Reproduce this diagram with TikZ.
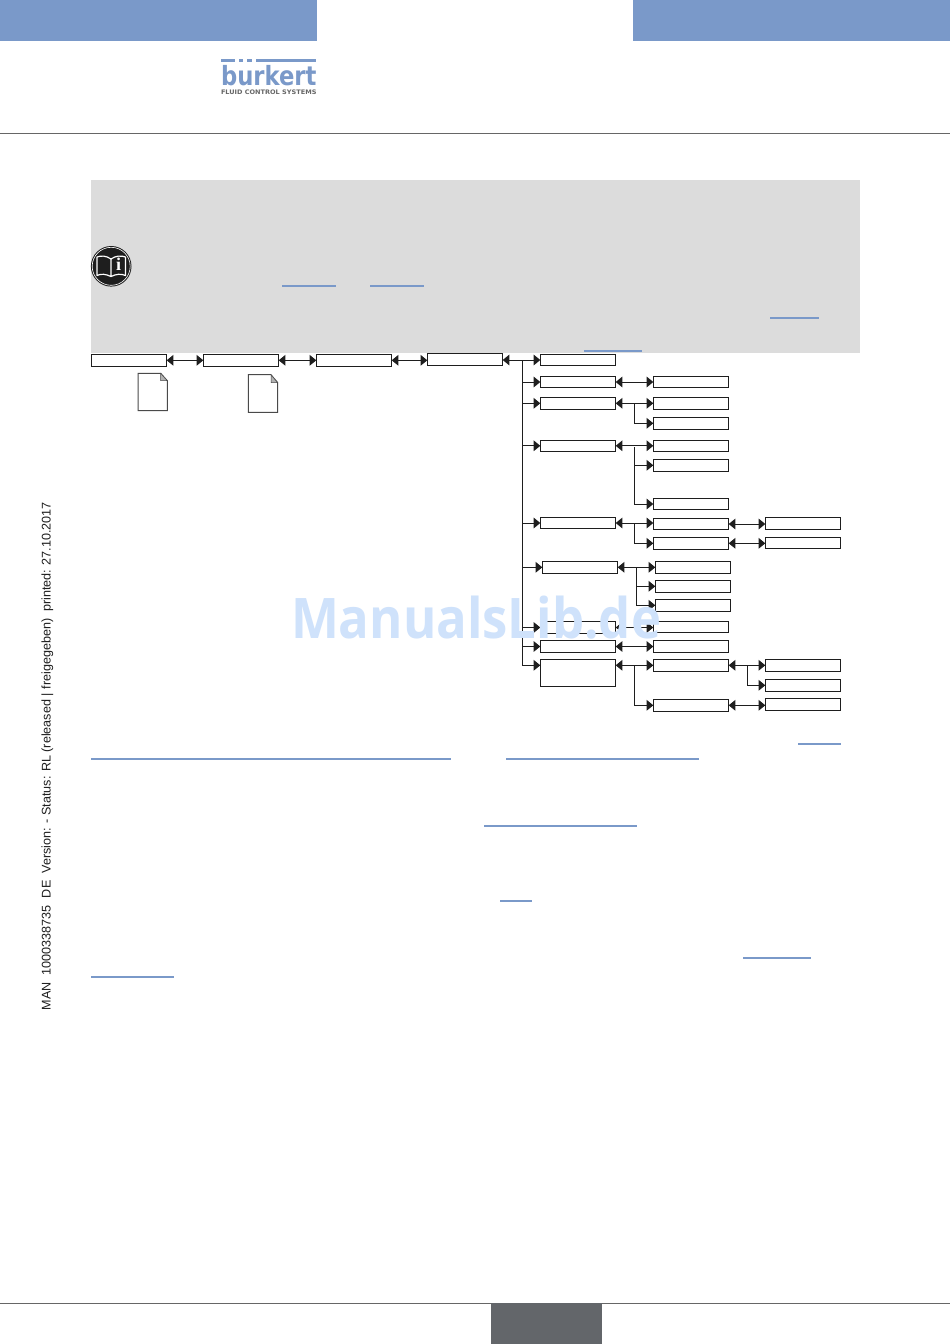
\documentclass[tikz,border=0pt]{standalone}
\usepackage{fontspec}
\usepackage{graphicx}
\setmainfont{Liberation Sans}
\newfontfamily\serifi{Liberation Serif}
\newfontfamily\logofont{DejaVu Sans}
\newfontfamily\wmfont{Open Sans}
\usetikzlibrary{arrows.meta}
\definecolor{band}{HTML}{7A99C9}
\definecolor{panel}{HTML}{DCDCDC}
\definecolor{rulegray}{HTML}{666666}
\definecolor{docline}{HTML}{4A4A4A}
\definecolor{foot}{HTML}{63666A}
\definecolor{ink}{HTML}{1E1E1E}
\definecolor{wm}{HTML}{CFE2FB}
\tikzset{
  bx/.style={draw=ink,line width=1pt,minimum width=75.4pt,inner sep=0pt,outer sep=0pt},
  lo/.style={bx,minimum height=11.4pt},
  hi/.style={bx,minimum height=12pt},
  dbl/.style={draw=ink,line width=1pt,{Triangle[length=6.6pt,width=10.5pt]}-{Triangle[length=6.6pt,width=10.5pt]}},
  sgl/.style={draw=ink,line width=1pt,-{Triangle[length=6.6pt,width=10.5pt]}},
  plain/.style={draw=ink,line width=1pt},
  ulink/.style={draw=band,line width=2pt},
  docpage/.style={draw=docline,line width=1pt,fill=white},
  docfold/.style={draw=docline,line width=.5pt,fill=gray!60}
}
\begin{document}
\begin{tikzpicture}[x=1pt,y=-1pt]
\useasboundingbox (0,0) rectangle (950,1344);
\fill[white] (0,0) rectangle (950,1344);
% header
\fill[band] (0,0) rectangle (316.5,40.5);
\fill[band] (633,0) rectangle (950,40.5);
\draw[rulegray,line width=1pt] (0,133.5) -- (950,133.5);
% logo
\node[inner sep=0pt,outer sep=0pt,anchor=base west,text=band] (logo) at (221,85.3)
  {\resizebox{95.5pt}{20.5pt}{\logofont\bfseries bürkert}};
\fill[white] (236,60) rectangle (255,69.5);
\fill[band] (221,59) rectangle (235.3,62.3);
\fill[band] (239,59) rectangle (243.3,62.3);
\fill[band] (247.3,59) rectangle (251.7,62.3);
\fill[band] (255.7,59) rectangle (316,62.3);
\node[inner sep=0pt,outer sep=0pt,anchor=base west,text=rulegray] (logosub) at (221,94.2)
  {\resizebox{95.5pt}{4.6pt}{\logofont\bfseries FLUID CONTROL SYSTEMS}};
% footer
\draw[rulegray,line width=1pt] (0,1303.5) -- (950,1303.5);
\fill[foot] (491,1303) rectangle (602,1344);
% side text
\node[inner sep=0pt,outer sep=0pt,rotate=90,anchor=base west,text=ink] (side) at (50.7,1010)
  {\resizebox{508pt}{!}{MAN\ \ 1000338735\ \ DE\ \ Version: - Status: RL (released | freigegeben)\ \ printed: 27.10.2017}};
% grey panel
\fill[panel] (91,180) rectangle (860,352.5);
% book icon
\fill[ink] (111.2,266.3) circle (20.3);
\draw[white,line width=.6pt] (111.2,266.3) circle (19);
\draw[white,line width=1.2pt,line join=round]
  (111,259) .. controls (106,255.5) and (101,255.5) .. (97,257)
  -- (97,275.5) .. controls (101,273.5) and (106,274) .. (111,276.5)
  .. controls (116,274) and (121,273.5) .. (125.5,275.5)
  -- (125.5,257) .. controls (121,255.5) and (116,255.5) .. (111,259) -- cycle
  (111,259) -- (111,276.5);
\node[inner sep=0pt,text=white,font=\serifi\bfseries\fontsize{18}{18}\selectfont] (infoi) at (118.6,264.5) {i};
% link underlines
\draw[ulink] (282,286) -- (335.5,286);
\draw[ulink] (370,286) -- (424,286);
\draw[ulink] (770,318) -- (819,318);
\draw[ulink] (584,351) -- (641.7,351);
\draw[ulink] (798,744) -- (841,744);
\draw[ulink] (91,759) -- (451,759);
\draw[ulink] (506,759) -- (699,759);
\draw[ulink] (484,826) -- (637,826);
\draw[ulink] (500,901) -- (532,901);
\draw[ulink] (743,958) -- (811,958);
\draw[ulink] (91,977) -- (174,977);
% documents
\draw[docpage] (138,373.3) -- (160.7,373.3) -- (167.3,380.7) -- (167.3,410.7) -- (138,410.7) -- cycle;
\draw[docfold] (160.7,373.5) -- (160.7,380.7) -- (167.3,380.7) -- cycle;
\draw[docpage] (248.3,374.7) -- (271,374.7) -- (277.7,382.7) -- (277.7,412.3) -- (248.3,412.3) -- cycle;
\draw[docfold] (271,374.9) -- (271,382.7) -- (277.7,382.7) -- cycle;
% boxes
\node[hi] (t1) at (129,360.3) {};
\node[hi] (t2) at (241,360.3) {};
\node[hi] (t3) at (354,360.3) {};
\node[hi] (t4) at (465,359.3) {};
\node[lo] (a1) at (578,360) {};
\node[lo] (a2) at (578,382) {};
\node[lo] (b2) at (691,382) {};
\node[hi] (a3) at (578,403.3) {};
\node[hi] (b3) at (691,403.3) {};
\node[hi] (b3b) at (691,423.3) {};
\node[lo] (a4) at (578,445.8) {};
\node[lo] (b4) at (691,445.8) {};
\node[hi] (b4b) at (691,465.3) {};
\node[lo] (b4c) at (691,504) {};
\node[lo] (a5) at (578,523) {};
\node[lo] (b5) at (691,524) {};
\node[hi] (c5) at (803,523.3) {};
\node[hi] (b5b) at (691,543.3) {};
\node[lo] (c5b) at (803,543) {};
\node[hi] (a6) at (580,567.3) {};
\node[hi] (b6) at (693,567.3) {};
\node[hi] (b6b) at (693,586.3) {};
\node[hi] (b6c) at (693,605.3) {};
\node[bx,minimum height=12.4pt] (a7) at (578,627.5) {};
\node[lo] (b7) at (691,626.8) {};
\node[bx,minimum height=12.4pt] (a8) at (578,646.5) {};
\node[bx,minimum height=12.4pt] (b8) at (691,646.5) {};
\node[bx,minimum height=27pt] (a9) at (578,672.8) {};
\node[hi] (b9) at (691,665.3) {};
\node[hi] (c9) at (803,665.3) {};
\node[hi] (c9b) at (803,685.3) {};
\node[hi] (b9b) at (691,705.3) {};
\node[hi] (c9c) at (803,704.3) {};
% top chain
\draw[dbl] (t1.east) -- (t2.west);
\draw[dbl] (t2.east) -- (t3.west);
\draw[dbl] (t3.east) -- (t4.west |- t3.east);
\draw[dbl] (t4.east |- a1.west) -- (a1.west);
% trunk
\coordinate (tr) at (522.3,360);
\draw[plain] (tr) -- (tr |- b9.west);
\draw[sgl] (tr |- a2.west) -- (a2.west);
\draw[sgl] (tr |- a3.west) -- (a3.west);
\draw[sgl] (tr |- a4.west) -- (a4.west);
\draw[sgl] (tr |- a5.west) -- (a5.west);
\draw[sgl] (tr |- a6.west) -- (a6.west);
\draw[sgl] (tr |- a7.west) -- (a7.west);
\draw[sgl] (tr |- a8.west) -- (a8.west);
\draw[sgl] (tr |- b9.west) -- (a9.west |- b9.west);
% rows
\draw[dbl] (a2.east) -- (b2.west);
\draw[dbl] (a3.east) -- (b3.west);
\coordinate (j3) at (634.3,403.3);
\draw[sgl] (j3) |- (b3b.west);
\draw[dbl] (a4.east) -- (b4.west);
\coordinate (j4) at (634.3,447);
\draw[sgl] (j4) |- (b4b.west);
\draw[sgl] (j4) |- (b4c.west);
\draw[dbl] (a5.east) -- (b5.west |- a5.east);
\coordinate (j5) at (634.3,523);
\draw[sgl] (j5) |- (b5b.west);
\draw[dbl] (b5.east) -- (c5.west |- b5.east);
\draw[dbl] (b5b.east) -- (c5b.west |- b5b.east);
\draw[dbl] (a6.east) -- (b6.west);
\coordinate (j6) at (636.3,567.3);
\draw[sgl] (j6) |- (b6b.west);
\draw[sgl] (j6) |- (b6c.west);
\draw[dbl] (a7.east) -- (b7.west |- a7.east);
\draw[dbl] (a8.east) -- (b8.west);
\draw[dbl] (a9.east |- b9.west) -- (b9.west);
\coordinate (j9) at (634.3,665.3);
\draw[sgl] (j9) |- (b9b.west);
\draw[dbl] (b9.east) -- (c9.west);
\coordinate (k9) at (747.3,665.3);
\draw[sgl] (k9) |- (c9b.west);
\draw[dbl] (b9b.east) -- (c9c.west |- b9b.east);
% watermark
\node[inner sep=0pt,outer sep=0pt,anchor=base west,text=wm] (wmark) at (291,638.5)
  {\resizebox{370pt}{42.5pt}{\wmfont\bfseries ManualsLib.de}};
\end{tikzpicture}
\end{document}
